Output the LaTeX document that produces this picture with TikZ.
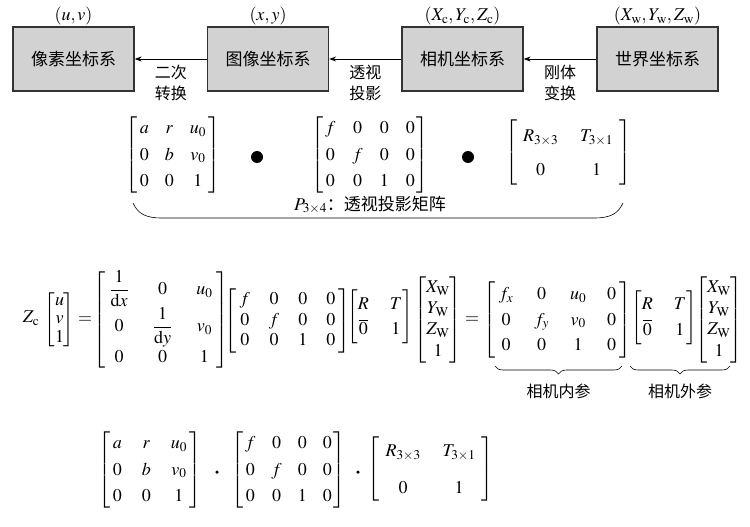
\documentclass[tikz,border=0pt]{standalone}
\usepackage{amsmath}
\usepackage{mathptmx}
\usepackage{fontspec}
\setmainfont{Liberation Serif}
\newfontfamily\cjk{Noto Sans CJK SC}
\usetikzlibrary{arrows.meta, positioning, calc, decorations.pathreplacing}
\newcommand{\matsep}[2]{\setlength{\arraycolsep}{#1}\renewcommand{\arraystretch}{#2}}
\newcommand{\bmat}[2][4pt]{\left[\hspace{#1}\begin{matrix}#2\end{matrix}\hspace{#1}\right]}

\begin{document}
\begin{tikzpicture}[x=1pt, y=-1pt, >={Stealth[length=7pt, width=5pt]},
  font=\fontsize{18}{17}\selectfont,
  sysbox/.style={draw=black!80, line width=1.3pt, fill=gray!35,
    minimum width=121pt, minimum height=64pt, font=\cjk\fontsize{17}{20}\selectfont},
  cnlabel/.style={font=\cjk\fontsize{16}{21}\selectfont, align=center},
  matnode/.style={inner sep=0pt},
  bigdot/.style={circle, fill, inner sep=0pt, minimum size=12pt},
  smalldot/.style={circle, fill, inner sep=0pt, minimum size=3.5pt},
  brc/.style={decorate, decoration={brace, mirror, amplitude=8pt}, line width=0.6pt}]
  \useasboundingbox (0,0) rectangle (750,527);
  % Coordinate systems
  \node[sysbox] (pix) at (73.5,59) {像素坐标系};
  \node[sysbox] (img) at (268,59) {图像坐标系};
  \node[sysbox] (cam) at (462.5,59) {相机坐标系};
  \node[sysbox] (wld) at (657.5,59) {世界坐标系};
  \node[above=-2pt of pix] (pixc) {$(u,v)$};
  \node[above=-2pt of img] (imgc) {$(x,y)$};
  \node[above=-2pt of cam] (camc) {$(X_\mathrm{c},Y_\mathrm{c},Z_\mathrm{c})$};
  \node[above=-2pt of wld] (wldc) {$(X_\mathrm{w},Y_\mathrm{w},Z_\mathrm{w})$};
  % Transformations
  \draw[->, line width=0.8pt] (img) -- (pix) node[midway, below=2pt, cnlabel] (t1) {二次\\转换};
  \draw[->, line width=0.8pt] (cam) -- (img) node[midway, below=2pt, cnlabel] (t2) {透视\\投影};
  \draw[->, line width=0.8pt] (wld) -- (cam) node[midway, below=2pt, cnlabel] (t3) {刚体\\变换};
  % Product of matrices
  \node[matnode] (mA) at (173,155) {\matsep{8pt}{1.55}$\bmat[2pt]{a & r & u_0\\ 0 & b & v_0\\ 0 & 0 & 1}$};
  \node[bigdot] (d1) at (257,157) {};
  \node[matnode] (mB) at (370,155) {\matsep{8.5pt}{1.55}$\bmat[2pt]{f & 0 & 0 & 0\\ 0 & f & 0 & 0\\ 0 & 0 & 1 & 0}$};
  \node[bigdot] (d2) at (468,157) {};
  \node[matnode] (mC) at (568,152.5) {\matsep{11pt}{1.8}$\bmat[6pt]{R_{3\times3} & T_{3\times1}\\[4pt] 0 & 1}$};
  \node (pP) at (370,205) {$P_{3\times4}${\cjk\fontsize{17}{20}\selectfont ：透视投影矩阵}};
  \draw[line width=0.6pt] (133,203) .. controls (138,214) and (146,218) .. (162,218)
    -- (594,218) .. controls (610,218) and (618,214) .. (623,203);
  % Projection equation
  \node (zc) at (31,318) {$Z_\mathrm{c}$};
  \node[matnode] (vuv) at (59.5,320) {\matsep{5pt}{1.1}$\begin{bmatrix} u\\ v\\ 1\end{bmatrix}$};
  \node (eqA) at (85,320) {$=$};
  \node[matnode] (mK) at (161,320) {\matsep{12pt}{1.3}$\bmat{\dfrac{1}{\mathrm{d}x} & 0 & u_0\\[6pt] 0 & \dfrac{1}{\mathrm{d}y} & v_0\\[6pt] 0 & 0 & 1}$};
  \node[matnode] (mF) at (287.5,321) {\matsep{9.5pt}{1.2}$\bmat[3pt]{f & 0 & 0 & 0\\ 0 & f & 0 & 0\\ 0 & 0 & 1 & 0}$};
  \node[matnode] (mRT) at (380,317) {\matsep{10.5pt}{1.5}$\bmat[0pt]{R & T\\ \overline{0} & 1}$};
  \node[matnode] (vXa) at (438,320) {\matsep{5pt}{1.25}$\begin{bmatrix} X_\mathrm{W}\\ Y_\mathrm{W}\\ Z_\mathrm{W}\\ 1\end{bmatrix}$};
  \node (eqB) at (472,320) {$=$};
  \node[matnode] (mKi) at (557.5,320) {\matsep{10.5pt}{1.5}$\bmat[3pt]{f_x & 0 & u_0 & 0\\ 0 & f_y & v_0 & 0\\ 0 & 0 & 1 & 0}$};
  \node[matnode] (mRTb) at (664,317.5) {\matsep{10.5pt}{1.5}$\bmat[0pt]{R & T\\ \overline{0} & 1}$};
  \node[matnode] (vXb) at (719,320) {\matsep{5pt}{1.25}$\begin{bmatrix} X_\mathrm{W}\\ Y_\mathrm{W}\\ Z_\mathrm{W}\\ 1\end{bmatrix}$};
  \coordinate (inL) at (495,366);
  \coordinate (inR) at (622,366);
  \coordinate (exL) at (630,366);
  \coordinate (exR) at (730,366);
  \draw[brc] (inL) -- (inR) node[midway, below=14pt, cnlabel] (inpar) {相机内参};
  \draw[brc] (exL) -- (exR) node[midway, below=14pt, cnlabel] (expar) {相机外参};
  % Product again
  \node[matnode] (mA2) at (150,470) {\matsep{10pt}{1.55}$\bmat[2pt]{a & r & u_0\\ 0 & b & v_0\\ 0 & 0 & 1}$};
  \node[smalldot] (s1) at (217,472) {};
  \node[matnode] (mB2) at (288.5,470) {\matsep{8pt}{1.55}$\bmat[2pt]{f & 0 & 0 & 0\\ 0 & f & 0 & 0\\ 0 & 0 & 1 & 0}$};
  \node[smalldot] (s2) at (358,472) {};
  \node[matnode] (mC2) at (430.5,469) {\matsep{11pt}{1.8}$\bmat[6pt]{R_{3\times3} & T_{3\times1}\\[6pt] 0 & 1}$};
\end{tikzpicture}
\end{document}
